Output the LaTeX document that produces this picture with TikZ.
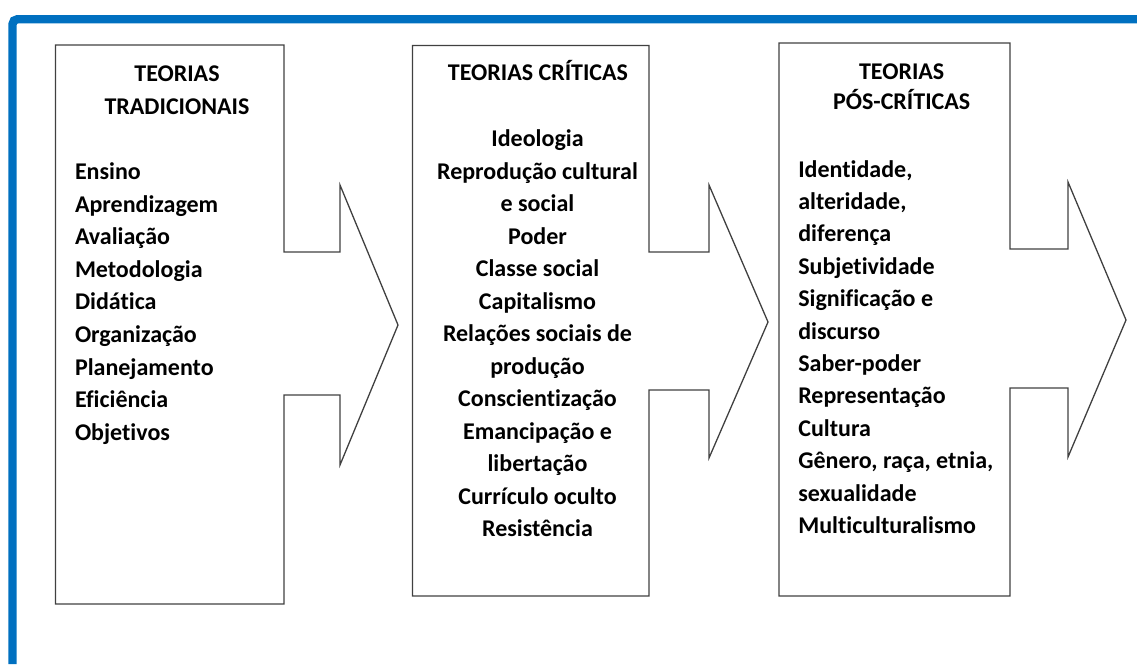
\documentclass[tikz,border=0pt]{standalone}
\usepackage{fontspec}
\setmainfont{Carlito}[Ligatures=NoCommon]
\begin{document}
\begin{tikzpicture}[x=1pt,y=-1pt,line join=miter,
	txt/.style={inner sep=0, outer sep=0, text=black, font=\fontsize{24pt}{32.5pt}\selectfont\bfseries}]
	\definecolor{col_frame}{RGB}{0, 112, 192}
	\definecolor{col_line}{RGB}{64, 64, 64}
	\useasboundingbox (0,0) rectangle (1137,664);
	% moldura azul
	\draw [line width=8.4pt, col_frame, rounded corners=5pt]  (12.5,664.0) -- (12.5,19.2) -- (1137.0,19.2) ;
	% caixas em forma de seta
	\draw [line width=1.3pt, col_line]  (55.5,45.0) -- (284.0,45.0) -- (284.0,252.0) -- (340.0,252.0) -- (340.0,185.0) -- (398.0,325.0) -- (340.0,465.0) -- (340.0,395.0) -- (284.0,395.0) -- (284.0,604.0) -- (55.5,604.0) -- cycle ;
	\draw [line width=1.3pt, col_line]  (412.5,45.5) -- (649.0,45.5) -- (649.0,252.0) -- (709.0,252.0) -- (709.0,185.0) -- (768.0,322.0) -- (709.0,458.0) -- (709.0,390.0) -- (649.0,390.0) -- (649.0,596.0) -- (412.5,596.0) -- cycle ;
	\draw [line width=1.3pt, col_line]  (779.0,43.0) -- (1010.0,43.0) -- (1010.0,249.0) -- (1068.0,249.0) -- (1068.0,182.0) -- (1126.0,320.0) -- (1068.0,457.0) -- (1068.0,388.0) -- (1010.0,388.0) -- (1010.0,596.0) -- (779.0,596.0) -- cycle ;
	% teorias tradicionais
	\node[txt, anchor=base] (trad_t1) at (177.0,81.7) {TEORIAS};
	\node[txt, anchor=base] (trad_t2) at (177.0,114.0) {TRADICIONAIS};
	\node[txt, anchor=base west] (trad_1) at (75.0,179.5) {Ensino};
	\node[txt, anchor=base west] (trad_2) at (75.0,212.1) {Aprendizagem};
	\node[txt, anchor=base west] (trad_3) at (75.0,244.7) {Avaliação};
	\node[txt, anchor=base west] (trad_4) at (75.0,277.3) {Metodologia};
	\node[txt, anchor=base west] (trad_5) at (75.0,309.9) {Didática};
	\node[txt, anchor=base west] (trad_6) at (75.0,342.5) {Organização};
	\node[txt, anchor=base west] (trad_7) at (75.0,375.1) {Planejamento};
	\node[txt, anchor=base west] (trad_8) at (75.0,407.7) {Eficiência};
	\node[txt, anchor=base west] (trad_9) at (75.0,440.3) {Objetivos};
	% teorias criticas
	\node[txt, anchor=base] (crit_t) at (538.0,80.7) {TEORIAS CRÍTICAS};
	\node[txt, anchor=base] (crit_1) at (537.5,146.7) {Ideologia};
	\node[txt, anchor=base] (crit_2) at (537.5,179.2) {Reprodução cultural};
	\node[txt, anchor=base] (crit_3) at (537.5,211.7) {e social};
	\node[txt, anchor=base] (crit_4) at (537.5,244.2) {Poder};
	\node[txt, anchor=base] (crit_5) at (537.5,276.7) {Classe social};
	\node[txt, anchor=base] (crit_6) at (537.5,309.2) {Capitalismo};
	\node[txt, anchor=base] (crit_7) at (537.5,341.7) {Relações sociais de};
	\node[txt, anchor=base] (crit_8) at (537.5,374.2) {produção};
	\node[txt, anchor=base] (crit_9) at (537.5,406.7) {Conscientização};
	\node[txt, anchor=base] (crit_10) at (537.5,439.2) {Emancipação e};
	\node[txt, anchor=base] (crit_11) at (537.5,471.7) {libertação};
	\node[txt, anchor=base] (crit_12) at (537.5,504.2) {Currículo oculto};
	\node[txt, anchor=base] (crit_13) at (537.5,536.7) {Resistência};
	% teorias pos-criticas
	\node[txt, anchor=base] (pos_t1) at (901.7,79.0) {TEORIAS};
	\node[txt, anchor=base] (pos_t2) at (901.7,109.0) {PÓS-CRÍTICAS};
	\node[txt, anchor=base west] (pos_1) at (798.3,177.0) {Identidade,};
	\node[txt, anchor=base west] (pos_2) at (798.3,209.4) {alteridade,};
	\node[txt, anchor=base west] (pos_3) at (798.3,241.8) {diferença};
	\node[txt, anchor=base west] (pos_4) at (798.3,274.2) {Subjetividade};
	\node[txt, anchor=base west] (pos_5) at (798.3,306.6) {Significação e};
	\node[txt, anchor=base west] (pos_6) at (798.3,339.0) {discurso};
	\node[txt, anchor=base west] (pos_7) at (798.3,371.4) {Saber-poder};
	\node[txt, anchor=base west] (pos_8) at (798.3,403.8) {Representação};
	\node[txt, anchor=base west] (pos_9) at (798.3,436.2) {Cultura};
	\node[txt, anchor=base west] (pos_10) at (798.3,468.6) {Gênero, raça, etnia,};
	\node[txt, anchor=base west] (pos_11) at (798.3,501.0) {sexualidade};
	\node[txt, anchor=base west] (pos_12) at (798.3,533.4) {Multiculturalismo};
\end{tikzpicture}
\end{document}
